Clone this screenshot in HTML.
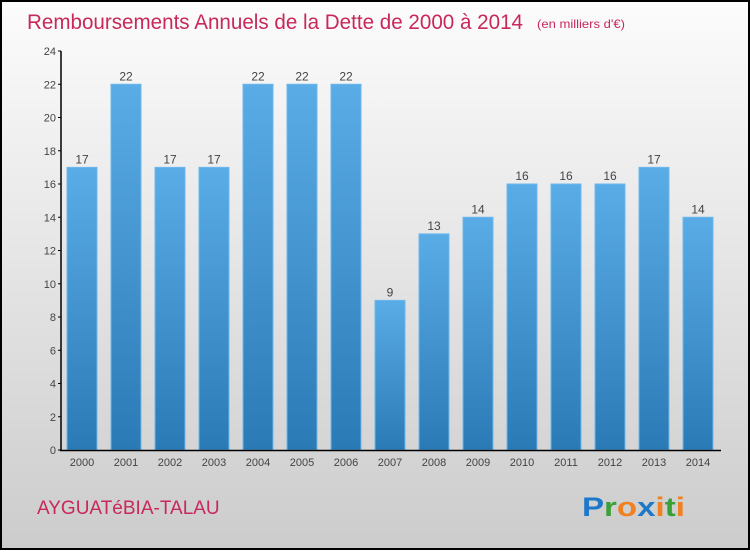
<!DOCTYPE html>
<html><head><meta charset="utf-8"><style>
body{margin:0;width:750px;height:550px;overflow:hidden;font-family:"Liberation Sans",sans-serif}
</style></head><body>
<svg width="750" height="550" xmlns="http://www.w3.org/2000/svg">
<defs>
<linearGradient id="bg" x1="0" y1="0" x2="0" y2="1"><stop offset="0" stop-color="#fcfcfc"/><stop offset="1" stop-color="#cccccc"/></linearGradient>
<linearGradient id="bar" x1="0" y1="0" x2="0" y2="1"><stop offset="0" stop-color="#5aace6"/><stop offset="1" stop-color="#2a7ab6"/></linearGradient>
</defs>
<rect x="1" y="1" width="748" height="548" fill="url(#bg)" stroke="#000" stroke-width="2"/>
<text x="27" y="29" font-size="21" fill="#c8285a" textLength="496" lengthAdjust="spacingAndGlyphs">Remboursements Annuels de la Dette de 2000 à 2014</text>
<text x="537" y="28" font-size="12" fill="#c8285a" textLength="88" lengthAdjust="spacingAndGlyphs">(en milliers d'€)</text>
<g id="yaxis"></g>
<g id="bars"></g>
<g id="xaxis"></g>
<text x="37" y="514" font-size="19" fill="#c8285a">AYGUATéBIA-TALAU</text>
<text x="582" y="516" font-size="27" font-weight="bold" textLength="103" lengthAdjust="spacingAndGlyphs"><tspan fill="#1e78c8">P</tspan><tspan fill="#3aa13a">r</tspan><tspan fill="#f08020">o</tspan><tspan fill="#1e78c8">x</tspan><tspan fill="#f08020">i</tspan><tspan fill="#3aa13a">t</tspan><tspan fill="#f08020">i</tspan></text>
</svg>
<script>
const years=["2000","2001","2002","2003","2004","2005","2006","2007","2008","2009","2010","2011","2012","2013","2014"];
const values=[17,22,17,17,22,22,22,9,13,14,16,16,16,17,14];
const yTicks=[0,2,4,6,8,10,12,14,16,18,20,22,24];
const NS="http://www.w3.org/2000/svg";
const y0=450,ppu=(450-51)/24,x0=82,step=44,bw=30;
const Y=v=>y0-v*ppu, X=i=>x0+i*step;
function mk(t,a,p,txt){const e=document.createElementNS(NS,t);for(const k in a)e.setAttribute(k,a[k]);if(txt!==undefined)e.textContent=txt;p.appendChild(e);return e;}
const ya=document.getElementById('yaxis'),bg=document.getElementById('bars'),xa=document.getElementById('xaxis');
mk('line',{x1:61,y1:51,x2:61,y2:451,stroke:'#000','stroke-width':1.5},ya);
mk('line',{x1:60,y1:450.5,x2:721,y2:450.5,stroke:'#000','stroke-width':1.5},xa);
yTicks.forEach(v=>{
 const l=mk('line',{x1:58,x2:61,y1:Y(v),y2:Y(v),stroke:'#000'},ya);
 
 
 const t=mk('text',{x:56,y:Y(v)+4,'font-size':11,fill:'#444','text-anchor':'end'},ya,v);
 
 
});
values.forEach((v,i)=>{
 const r=mk('rect',{x:X(i)-bw/2,y:Y(v),width:bw,height:y0-Y(v),fill:'url(#bar)',stroke:'#6cb8ee','stroke-width':1},bg);
 
 
 const t=mk('text',{x:X(i),y:Y(v)-4,'font-size':12,fill:'#444','text-anchor':'middle'},bg,v);
 
 
 const xl=mk('text',{x:X(i),y:466,'font-size':11,fill:'#444','text-anchor':'middle'},xa,years[i]);
 
 
});
</script>
</body></html>
